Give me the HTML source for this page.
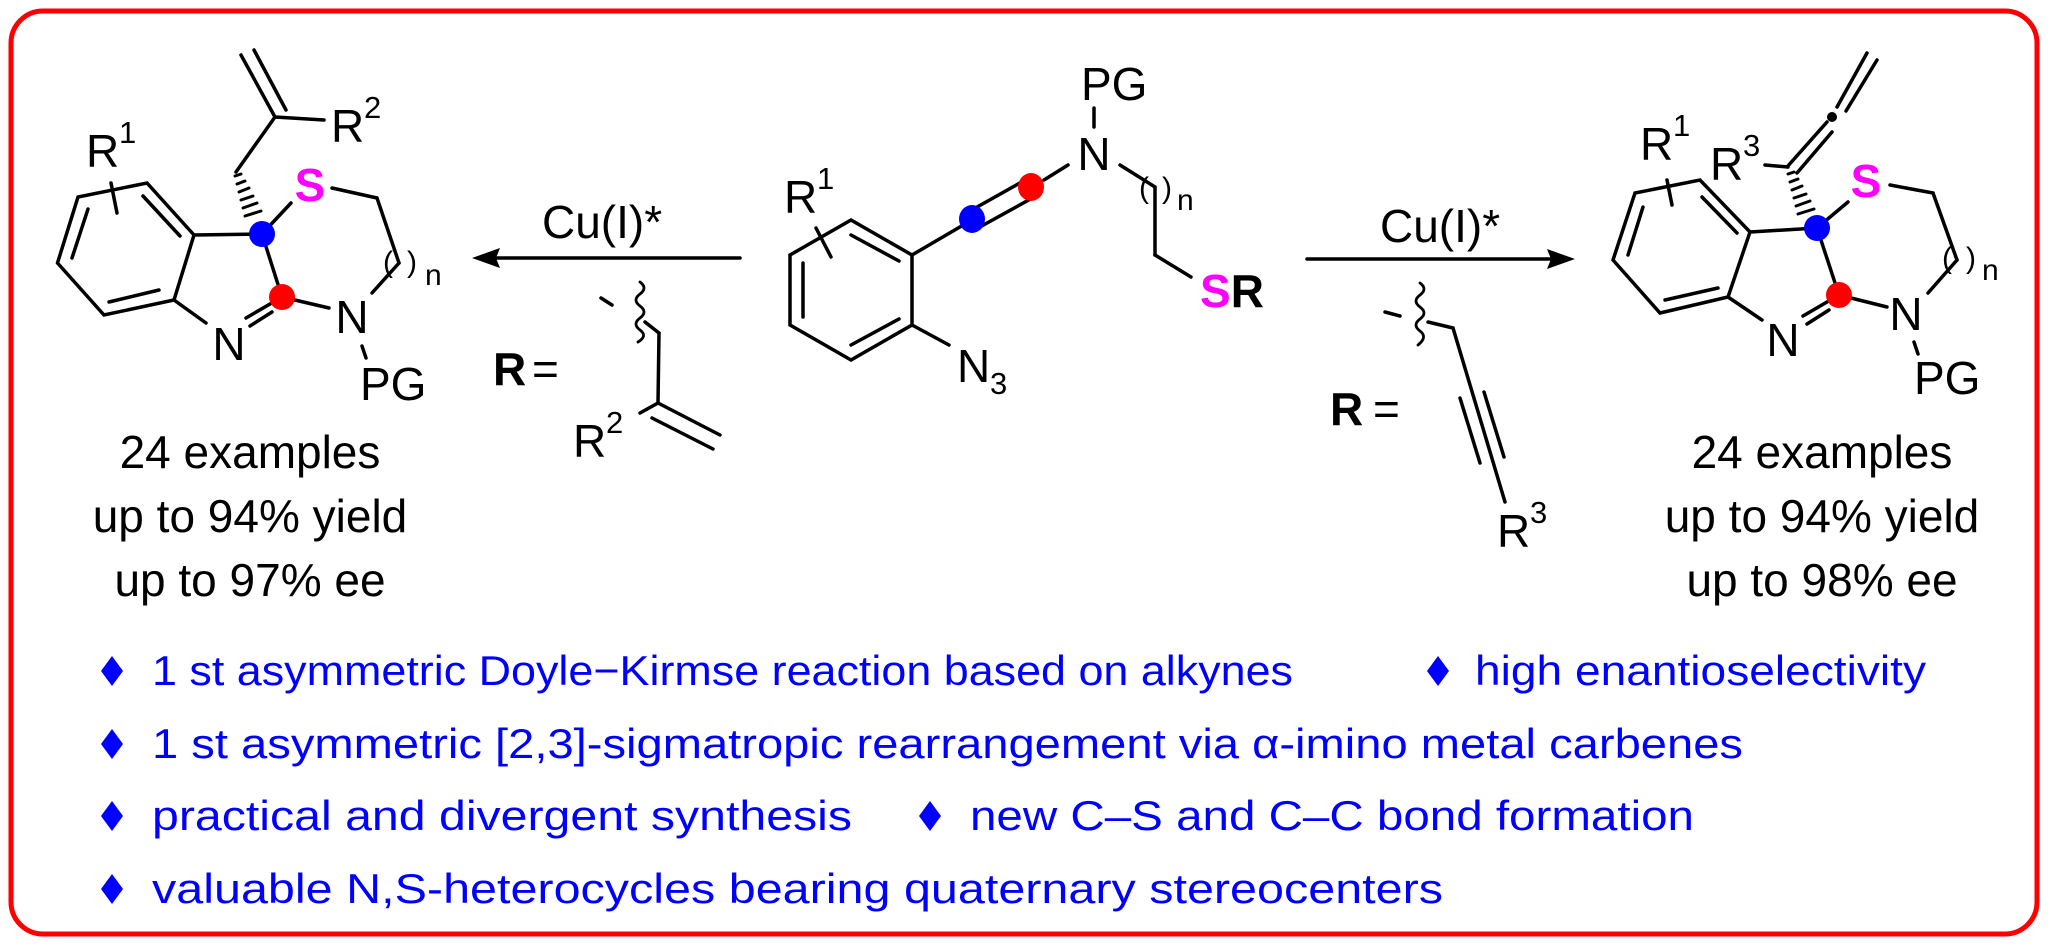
<!DOCTYPE html>
<html><head><meta charset="utf-8"><style>
html,body{margin:0;padding:0;background:#fff;}
svg{display:block;}
text{font-family:"Liberation Sans",Arial,sans-serif;}
</style></head><body>
<svg width="2048" height="948" viewBox="0 0 2048 948" xmlns="http://www.w3.org/2000/svg">
<rect x="11" y="11" width="2026" height="923" rx="32" ry="32" fill="#fff" stroke="#ff0000" stroke-width="5"/>
<g stroke="#000" stroke-width="3.5" fill="none" stroke-linecap="round">
<polygon points="57.5,263 78,197 147,183 194,235 174,300 104,315"/>
<line x1="72" y1="258" x2="88" y2="209"/>
<line x1="143" y1="196" x2="180" y2="236"/>
<line x1="109" y1="302" x2="159" y2="290"/>
<line x1="111" y1="183" x2="117" y2="213"/>
<line x1="194" y1="235" x2="262" y2="234"/>
<line x1="262" y1="234" x2="282" y2="297"/>
<line x1="262" y1="234" x2="291" y2="203"/>
<line x1="332" y1="188" x2="377" y2="198"/>
<line x1="377" y1="198" x2="399" y2="263"/>
<line x1="399" y1="263" x2="372" y2="293"/>
<line x1="282" y1="297" x2="329" y2="308"/>
<line x1="174" y1="300" x2="206" y2="323"/>
<line x1="282" y1="297" x2="246" y2="318"/>
<line x1="272" y1="312" x2="250" y2="326"/>
<line x1="362" y1="346" x2="366" y2="358"/>
<line x1="241" y1="55" x2="275" y2="117"/>
<line x1="254" y1="50" x2="286" y2="110"/>
<line x1="275" y1="117" x2="324" y2="120"/>
<line x1="275" y1="117" x2="236" y2="172"/>
<g stroke-width="3">
<line x1="235" y1="176" x2="241" y2="174"/>
<line x1="237" y1="184" x2="245" y2="181"/>
<line x1="239" y1="192" x2="249" y2="188"/>
<line x1="241" y1="200" x2="253" y2="196"/>
<line x1="243" y1="208" x2="257" y2="203"/>
<line x1="245" y1="216" x2="261" y2="211"/>
</g>
<polygon points="790,255 851,220 912,255 912,325 851,360 790,325"/>
<line x1="803" y1="263" x2="803" y2="317"/>
<line x1="851" y1="235" x2="899" y2="261"/>
<line x1="851" y1="345" x2="899" y2="319"/>
<line x1="816" y1="228" x2="831" y2="257"/>
<line x1="912" y1="255" x2="965" y2="224"/>
<line x1="970" y1="211" x2="1027" y2="179"/>
<line x1="978" y1="228" x2="1036" y2="196"/>
<line x1="1044" y1="180" x2="1068" y2="165"/>
<line x1="1094" y1="108" x2="1094" y2="127"/>
<line x1="1120" y1="165" x2="1155" y2="187"/>
<line x1="1155" y1="187" x2="1155" y2="255"/>
<line x1="1155" y1="255" x2="1191" y2="277"/>
<line x1="912" y1="325" x2="949" y2="345"/>
<line x1="490" y1="258" x2="740" y2="258"/>
<line x1="601" y1="298" x2="612" y2="305"/>
<path d="M640,282 q8,6 0,12 q-8,6 0,12 q8,6 0,12 q-8,6 0,12 q8,6 -2,12" stroke-width="2.8"/>
<line x1="645" y1="322" x2="659" y2="333"/>
<line x1="659" y1="333" x2="658" y2="403"/>
<line x1="658" y1="403" x2="720" y2="435"/>
<line x1="652" y1="418" x2="713" y2="449"/>
<line x1="640" y1="413" x2="658" y2="403"/>
<line x1="1307" y1="259" x2="1555" y2="259"/>
<line x1="1385" y1="312" x2="1400" y2="316"/>
<path d="M1420,283 q8,6 0,12 q-8,6 0,12 q8,6 0,12 q-8,6 0,12 q8,6 -2,14" stroke-width="2.8"/>
<line x1="1428" y1="322" x2="1453" y2="328"/>
<line x1="1453" y1="328" x2="1505" y2="502"/>
<line x1="1460" y1="398" x2="1480" y2="463"/>
<line x1="1484" y1="392" x2="1504" y2="457"/>
<polygon points="1613,260 1635,193 1700,180 1750,232 1728,297 1660,313"/>
<line x1="1628" y1="255" x2="1643" y2="207"/>
<line x1="1702" y1="197" x2="1737" y2="233"/>
<line x1="1665" y1="300" x2="1718" y2="288"/>
<line x1="1667" y1="180" x2="1672" y2="205"/>
<line x1="1750" y1="232" x2="1817" y2="228"/>
<line x1="1817" y1="228" x2="1839" y2="295"/>
<line x1="1817" y1="228" x2="1848" y2="202"/>
<line x1="1890" y1="185" x2="1933" y2="193"/>
<line x1="1933" y1="193" x2="1957" y2="260"/>
<line x1="1957" y1="260" x2="1928" y2="293"/>
<line x1="1839" y1="295" x2="1887" y2="307"/>
<line x1="1728" y1="297" x2="1762" y2="320"/>
<line x1="1839" y1="295" x2="1803" y2="316"/>
<line x1="1829" y1="310" x2="1807" y2="324"/>
<line x1="1914" y1="342" x2="1918" y2="354"/>
<line x1="1765" y1="165" x2="1788" y2="167"/>
<line x1="1787" y1="167" x2="1827" y2="122"/>
<line x1="1797" y1="173" x2="1832" y2="132"/>
<line x1="1837" y1="107" x2="1867" y2="53"/>
<line x1="1846" y1="111" x2="1877" y2="60"/>
<g stroke-width="3">
<line x1="1788" y1="174" x2="1794" y2="172"/>
<line x1="1790" y1="182" x2="1798" y2="179"/>
<line x1="1792" y1="190" x2="1802" y2="186"/>
<line x1="1794" y1="198" x2="1806" y2="194"/>
<line x1="1796" y1="206" x2="1810" y2="201"/>
<line x1="1798" y1="214" x2="1814" y2="209"/>
</g>
</g>
<polygon points="472,258 500,248 496,258 500,268" fill="#000"/>
<polygon points="1575,259 1547,249 1551,259 1547,269" fill="#000"/>
<circle cx="1832" cy="117" r="5" fill="#000"/>
<circle cx="262" cy="234" r="13" fill="#0000ff"/>
<circle cx="282" cy="297" r="13" fill="#ff0000"/>
<ellipse cx="972" cy="219" rx="13" ry="14" fill="#0000ff"/>
<ellipse cx="1031" cy="187" rx="13" ry="14" fill="#ff0000"/>
<circle cx="1817" cy="228" r="13" fill="#0000ff"/>
<circle cx="1839" cy="295" r="13" fill="#ff0000"/>
<g font-size="46" fill="#000">
<text x="86" y="167">R</text><text x="119" y="143" font-size="31">1</text>
<text x="331" y="142">R</text><text x="364" y="118" font-size="31">2</text>
<text x="310" y="201" text-anchor="middle" font-weight="bold" fill="#ff00ff">S</text>
<text x="229" y="360" text-anchor="middle">N</text>
<text x="352" y="333" text-anchor="middle">N</text>
<text x="360" y="400">PG</text>
<text x="383" y="272" font-size="30">(</text><text x="407" y="272" font-size="30">)</text><text x="425" y="285" font-size="30">n</text>
<text x="542" y="238">Cu(I)*</text>
<text x="493" y="385" font-weight="bold">R</text><text x="532" y="385">=</text>
<text x="573" y="457">R</text><text x="606" y="433" font-size="31">2</text>
<text x="784" y="213">R</text><text x="817" y="189" font-size="31">1</text>
<text x="1094" y="170" text-anchor="middle">N</text>
<text x="1081" y="100">PG</text>
<text x="1139" y="198" font-size="30">(</text><text x="1162" y="198" font-size="30">)</text><text x="1177" y="210" font-size="30">n</text>
<text x="1200" y="307" font-weight="bold"><tspan fill="#ff00ff">S</tspan>R</text>
<text x="957" y="382">N</text><text x="990" y="394" font-size="31">3</text>
<text x="1380" y="242">Cu(I)*</text>
<text x="1330" y="425" font-weight="bold">R</text><text x="1373" y="425">=</text>
<text x="1497" y="547">R</text><text x="1530" y="523" font-size="31">3</text>
<text x="1640" y="160">R</text><text x="1673" y="136" font-size="31">1</text>
<text x="1710" y="180">R</text><text x="1743" y="156" font-size="31">3</text>
<text x="1866" y="197" text-anchor="middle" font-weight="bold" fill="#ff00ff">S</text>
<text x="1783" y="356" text-anchor="middle">N</text>
<text x="1906" y="330" text-anchor="middle">N</text>
<text x="1914" y="394">PG</text>
<text x="1942" y="268" font-size="30">(</text><text x="1966" y="268" font-size="30">)</text><text x="1982" y="280" font-size="30">n</text>
</g>
<g font-size="46" fill="#000" text-anchor="middle">
<text x="250" y="468">24 examples</text>
<text x="250" y="532">up to 94% yield</text>
<text x="250" y="596">up to 97% ee</text>
<text x="1822" y="468">24 examples</text>
<text x="1822" y="532">up to 94% yield</text>
<text x="1822" y="596">up to 98% ee</text>
</g>
<g fill="#0000ff">
<polygon points="112,656 123,671 112,686 101,671"/>
<polygon points="1438,656 1449,671 1438,686 1427,671"/>
<polygon points="112,729 123,744 112,759 101,744"/>
<polygon points="112,801 123,816 112,831 101,816"/>
<polygon points="930,801 941,816 930,831 919,816"/>
<polygon points="112,874 123,889 112,904 101,889"/>
</g>
<g font-size="42" fill="#0000ff">
<text x="152" y="685" textLength="1141" lengthAdjust="spacingAndGlyphs">1 st asymmetric Doyle−Kirmse reaction based on alkynes</text>
<text x="1475" y="685" textLength="451" lengthAdjust="spacingAndGlyphs">high enantioselectivity</text>
<text x="152" y="758" textLength="1591" lengthAdjust="spacingAndGlyphs">1 st asymmetric [2,3]-sigmatropic rearrangement via α-imino metal carbenes</text>
<text x="152" y="830" textLength="700" lengthAdjust="spacingAndGlyphs">practical and divergent synthesis</text>
<text x="970" y="830" textLength="724" lengthAdjust="spacingAndGlyphs">new C–S and C–C bond formation</text>
<text x="152" y="903" textLength="1291" lengthAdjust="spacingAndGlyphs">valuable N,S-heterocycles bearing quaternary stereocenters</text>
</g>
</svg>
</body></html>
